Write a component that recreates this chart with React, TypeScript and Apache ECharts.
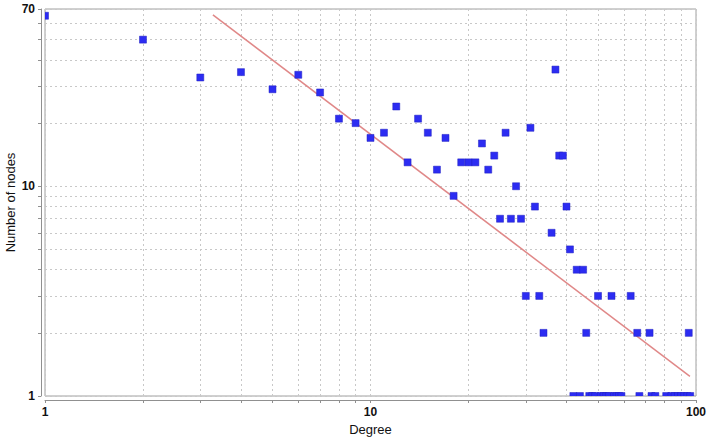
import React, { useEffect, useRef } from 'react';
import * as echarts from 'echarts';

const degrees = [
  1, 2, 3, 4, 5, 6, 7, 8, 9, 10, 11, 12, 13, 14, 15, 16, 17, 18, 19, 20,
  21, 22, 23, 24, 25, 26, 27, 28, 29, 30, 31, 32, 33, 34, 36, 37, 38, 39, 40, 41,
  42, 43, 44, 45, 46, 47, 48, 49, 50, 51, 52, 53, 54, 55, 56, 57, 58, 59, 63, 66,
  67, 72, 73, 75, 81, 84, 86, 88, 90, 92, 94, 95, 96,
];
const nodeCounts = [
  65, 50, 33, 35, 29, 34, 28, 21, 20, 17, 18, 24, 13, 21, 18, 12, 17, 9, 13, 13,
  13, 16, 12, 14, 7, 18, 7, 10, 7, 3, 19, 8, 3, 2, 6, 36, 14, 14, 8, 5,
  1, 4, 1, 4, 2, 1, 1, 1, 3, 1, 1, 1, 1, 3, 1, 1, 1, 1, 3, 2,
  1, 2, 1, 1, 1, 1, 1, 1, 1, 1, 1, 2, 1,
];
const fitLineX = [3.28, 95.8];
const fitLineY = [65.6, 1.24];

const xLabelValues = [1, 10, 100];
const xTickValues = [1, 2, 3, 4, 5, 6, 7, 8, 9, 10, 20, 30, 40, 50, 60, 70, 80, 90, 100];
const yLabelValues = [1, 10, 70];
const yTickValues = [1, 2, 3, 4, 5, 6, 7, 8, 9, 10, 20, 30, 40, 50, 60, 70];

const FONT = '"Liberation Sans", Arial, sans-serif';
const SQUARE = 7;

export default function App() {
  const ref = useRef<HTMLDivElement>(null);
  useEffect(() => {
    if (!ref.current) return;
    const chart = echarts.init(ref.current, null, { renderer: 'svg' });
    const splitLine = {
      show: true,
      lineStyle: { color: '#c8c8c8', type: [2, 3] as any, width: 1 },
    };
    chart.setOption({
      animation: false,
      backgroundColor: '#ffffff',
      grid: {
        left: 45,
        right: 12,
        top: 9,
        bottom: 44,
        outerBoundsMode: 'none',
        containLabel: false,
        show: true,
        borderColor: '#a0a0a0',
        borderWidth: 1,
        backgroundColor: '#ffffff',
      },
      xAxis: {
        type: 'log',
        logBase: 10,
        min: 1,
        max: 100,
        offset: 4,
        name: 'Degree',
        nameLocation: 'middle',
        nameGap: 23,
        nameMoveOverlap: false,
        nameTextStyle: { fontFamily: FONT, fontSize: 13, color: '#111' },
        axisLine: { show: true, lineStyle: { color: '#909090', width: 1 } },
        axisTick: { show: true, length: 3, lineStyle: { color: '#909090' }, customValues: xTickValues },
        axisLabel: {
          customValues: xLabelValues,
          formatter: (v: number) => String(Math.round(v)),
          fontFamily: FONT,
          fontSize: 12,
          fontWeight: 'bold',
          color: '#111',
          margin: 6,
        },
        splitLine,
        minorTick: { show: false },
      },
      yAxis: {
        type: 'log',
        logBase: 10,
        min: 1,
        max: 70,
        offset: 4,
        name: 'Number of nodes',
        nameLocation: 'middle',
        nameGap: 24,
        nameMoveOverlap: false,
        nameTextStyle: { fontFamily: FONT, fontSize: 13, color: '#111' },
        axisLine: { show: true, lineStyle: { color: '#909090', width: 1 } },
        axisTick: { show: true, length: 3, lineStyle: { color: '#909090' }, customValues: yTickValues },
        axisLabel: {
          customValues: yLabelValues,
          formatter: (v: number) => String(Math.round(v)),
          fontFamily: FONT,
          fontSize: 12,
          fontWeight: 'bold',
          color: '#111',
          margin: 6,
        },
        splitLine,
      },
      series: [
        {
          type: 'line',
          data: fitLineX.map((x, i) => [x, fitLineY[i]]),
          showSymbol: false,
          symbol: 'none',
          lineStyle: { color: '#e08888', width: 1.5 },
          z: 2,
        },
        {
          type: 'custom',
          data: degrees.map((d, i) => [d, nodeCounts[i]]),
          clip: true,
          encode: { x: 0, y: 1 },
          z: 3,
          renderItem: (params: any, api: any) => {
            const p = api.coord([api.value(0), api.value(1)]);
            return {
              type: 'rect',
              shape: { x: p[0] - SQUARE / 2, y: p[1] - SQUARE / 2, width: SQUARE, height: SQUARE },
              style: { fill: '#2c2cf2', stroke: '#2020c0', lineWidth: 0.5 },
            };
          },
        },
      ],
    });
    return () => chart.dispose();
  }, []);
  return <div ref={ref} style={{ width: 708, height: 440, position: 'absolute', left: 0, top: 0 }} />;
}
